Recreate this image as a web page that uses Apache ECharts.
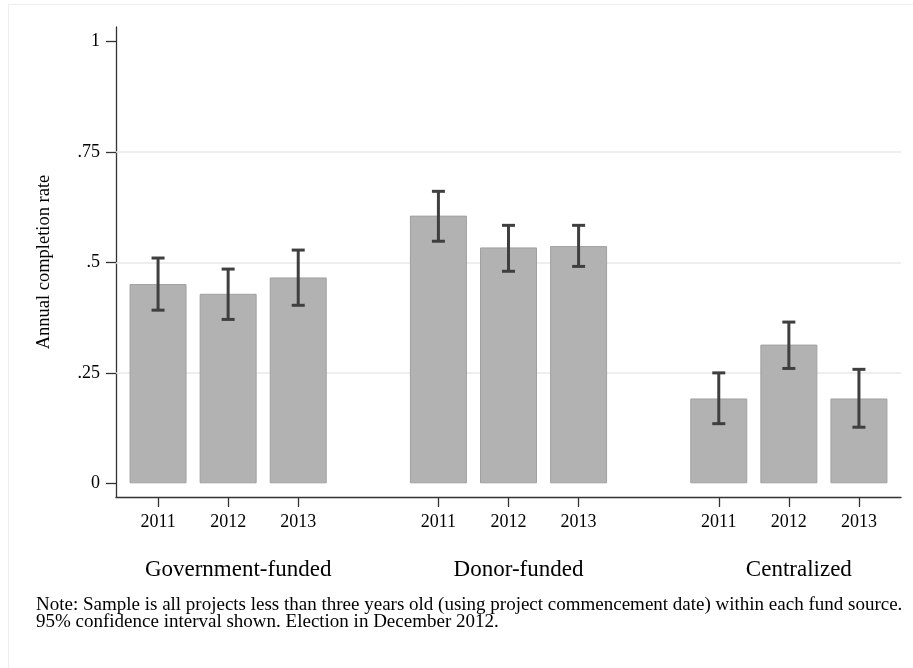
<!DOCTYPE html>
<html>
<head>
<meta charset="utf-8">
<script src="https://cdn.jsdelivr.net/npm/echarts@6/dist/echarts.min.js"></script>
<style>
  html, body { margin: 0; padding: 0; background: #fff; }
  #chart { width: 913px; height: 668px; }
</style>
</head>
<body>
<div id="chart"></div>
<script>
  // data
  const groups = ['Government-funded', 'Donor-funded', 'Centralized']
  const years = ['2011', '2012', '2013']
  const rates = [0.451, 0.429, 0.466, 0.606, 0.534, 0.537, 0.192, 0.314, 0.192]
  const ciLow = [0.392, 0.371, 0.403, 0.548, 0.480, 0.491, 0.135, 0.260, 0.127]
  const ciHigh = [0.510, 0.485, 0.528, 0.661, 0.584, 0.584, 0.250, 0.365, 0.258]
  const yTicks = [0, 0.25, 0.5, 0.75, 1]
  const yTickLabels = ['0', '.25', '.5', '.75', '1']
  const note = 'Note: Sample is all projects less than three years old (using project commencement date) within each fund source.\n95% confidence interval shown. Election in December 2012.'

  // one empty slot between the groups
  const pos = rates.map((v, i) => Math.floor(i / 3) * 4 + (i % 3))
  const groupPos = groups.map((g, i) => i * 4 + 1)

  const font = '"Liberation Serif", "Times New Roman", serif'
  const axisColor = '#333'

  let myChart = echarts.init(document.getElementById('chart'))
  let options = {
    animation: false,
    title: {
      text: note,
      left: 31,
      top: 592,
      textStyle: {
        fontFamily: font,
        fontSize: 19,
        fontWeight: 'normal',
        color: '#000',
        lineHeight: 17
      }
    },
    graphic: [{
      type: 'rect',
      silent: true,
      shape: { x: 8.5, y: 4.5, width: 1000, height: 1000 },
      style: { fill: 'none', stroke: '#eeeeee', lineWidth: 1 }
    }],
    grid: {
      left: 116,
      right: 12,
      top: 27,
      bottom: 171
    },
    xAxis: [{
      type: 'value',
      min: -0.6,
      max: 10.6,
      splitLine: { show: false },
      axisLine: { onZero: false, lineStyle: { color: axisColor, width: 1.3 } },
      axisTick: {
        customValues: pos,
        length: 10,
        lineStyle: { color: axisColor, width: 1.3 }
      },
      axisLabel: {
        customValues: pos,
        margin: 16,
        fontFamily: font,
        fontSize: 18,
        color: '#000',
        formatter: (v) => years[Math.round(v) % 4]
      }
    }, {
      type: 'value',
      position: 'bottom',
      min: -0.6,
      max: 10.6,
      splitLine: { show: false },
      axisLine: { show: false, onZero: false },
      axisTick: { show: false },
      axisLabel: {
        customValues: groupPos,
        margin: 61,
        padding: [0, 0, 0, 20],
        fontFamily: font,
        fontSize: 23,
        color: '#000',
        formatter: (v) => groups[Math.round((v - 1) / 4)]
      }
    }],
    yAxis: {
      type: 'value',
      min: -0.031,
      max: 1.033,
      name: 'Annual completion rate',
      nameLocation: 'middle',
      nameGap: 62,
      nameTextStyle: { fontFamily: font, fontSize: 18.5, color: '#000' },
      splitLine: { show: false },
      axisLine: { show: true, onZero: false, lineStyle: { color: axisColor, width: 1.3 } },
      axisTick: {
        show: true,
        customValues: yTicks,
        length: 10,
        lineStyle: { color: axisColor, width: 1.3 }
      },
      axisLabel: {
        customValues: yTicks,
        margin: 16,
        fontFamily: font,
        fontSize: 18,
        color: '#000',
        formatter: (v) => yTickLabels[yTicks.indexOf(v)]
      }
    },
    series: [
      {
        type: 'bar',
        z: 2,
        barWidth: 57,
        itemStyle: {
          color: '#b2b2b2',
          borderColor: '#a0a0a0',
          borderWidth: 1
        },
        markLine: {
          z: 1,
          silent: true,
          symbol: 'none',
          label: { show: false },
          lineStyle: { color: '#e8e8e8', width: 1.5, type: 'solid' },
          data: [{ yAxis: 0.25 }, { yAxis: 0.5 }, { yAxis: 0.75 }]
        },
        data: rates.map((v, i) => [pos[i], v])
      },
      {
        type: 'custom',
        z: 3,
        data: rates.map((v, i) => [pos[i], ciLow[i], ciHigh[i]]),
        renderItem: function (params, api) {
          let lo = api.coord([api.value(0), api.value(1)])
          let hi = api.coord([api.value(0), api.value(2)])
          let half = 6.5
          let style = { stroke: '#3f3f3f', lineWidth: 3 }
          return {
            type: 'group',
            children: [
              { type: 'line', shape: { x1: lo[0], y1: lo[1], x2: hi[0], y2: hi[1] }, style: style },
              { type: 'line', shape: { x1: lo[0] - half, y1: lo[1], x2: lo[0] + half, y2: lo[1] }, style: style },
              { type: 'line', shape: { x1: hi[0] - half, y1: hi[1], x2: hi[0] + half, y2: hi[1] }, style: style }
            ]
          }
        }
      }
    ]
  }
  myChart.setOption(options)
  window.addEventListener('resize', () => {
    myChart.resize()
  })
</script>
</body>
</html>
